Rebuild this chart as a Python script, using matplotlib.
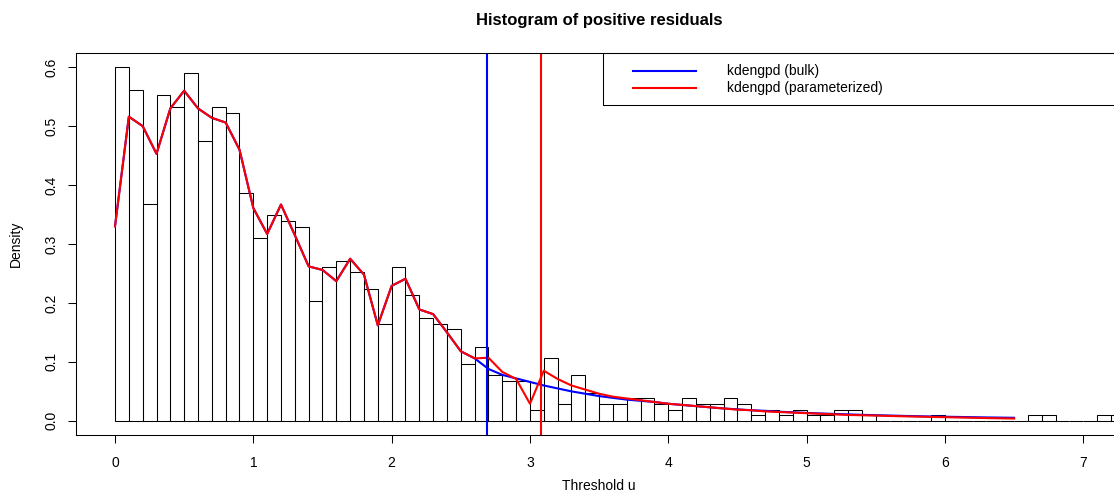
import numpy as np
import matplotlib
matplotlib.use("Agg")
import matplotlib.pyplot as plt
from matplotlib.patches import Rectangle

# histogram densities, bins of width 0.1 starting at 0
bin_width = 0.1
density = [0.600, 0.561, 0.368, 0.552, 0.532, 0.590, 0.474, 0.532, 0.523, 0.387,
           0.310, 0.349, 0.339, 0.329, 0.203, 0.261, 0.271, 0.252, 0.223, 0.165,
           0.261, 0.213, 0.174, 0.165, 0.155, 0.097, 0.126, 0.077, 0.068, 0.068,
           0.019, 0.106, 0.029, 0.077, 0.048, 0.029, 0.029, 0.039, 0.039, 0.029,
           0.019, 0.039, 0.029, 0.029, 0.039, 0.029, 0.010, 0.019, 0.010, 0.019,
           0.010, 0.010, 0.019, 0.019, 0.010, 0.0, 0.0, 0.0, 0.0, 0.010,
           0.0, 0.0, 0.0, 0.0, 0.0, 0.0, 0.010, 0.010, 0.0, 0.0,
           0.0, 0.010, 0.010]

# fitted densities evaluated on a 0.1 grid from 0 to 6.5
param_fit = [0.330, 0.516, 0.500, 0.453, 0.530, 0.560, 0.530, 0.514, 0.506, 0.460,
             0.361, 0.317, 0.367, 0.315, 0.262, 0.256, 0.237, 0.275, 0.248, 0.162,
             0.229, 0.241, 0.189, 0.181, 0.150, 0.118, 0.106, 0.107, 0.083, 0.071,
             0.029, 0.085, 0.071, 0.060, 0.053, 0.046, 0.041, 0.038, 0.035, 0.032,
             0.029, 0.027, 0.025, 0.023, 0.021, 0.019, 0.018, 0.016, 0.015, 0.014,
             0.013, 0.012, 0.011, 0.010, 0.0095, 0.009, 0.0083, 0.0077, 0.0072, 0.0067,
             0.0062, 0.0057, 0.0052, 0.0047, 0.0043, 0.0039]
bulk_fit = param_fit[:27] + [
             0.088, 0.078, 0.072,
             0.066, 0.060, 0.055, 0.050, 0.046, 0.042, 0.039, 0.036, 0.034, 0.032,
             0.029, 0.027, 0.025, 0.023, 0.021, 0.0195, 0.018, 0.017, 0.0155, 0.0145,
             0.0135, 0.0125, 0.0117, 0.011, 0.0102, 0.0096, 0.009, 0.0084, 0.0079, 0.0074,
             0.0070, 0.0066, 0.0062, 0.0058, 0.0055, 0.0052]

u_bulk = 2.69
u_param = 3.08
legend_labels = ["kdengpd (bulk)", "kdengpd (parameterized)"]

plt.rcParams['font.family'] = ['Liberation Sans', 'DejaVu Sans']

W, H = 1114, 500
fig = plt.figure(figsize=(W / 100, H / 100), dpi=100)
# plot region in pixels: x 76..1122, y 53..435 (right side runs off the image)
ax = fig.add_axes([76 / W, (H - 435) / H, (1122 - 76) / W, (435 - 53) / H])

edges = np.arange(len(density)) * bin_width
ax.bar(edges, density, width=bin_width, align='edge', fill=False,
       edgecolor='black', linewidth=0.75)

grid = np.arange(len(param_fit)) * 0.1
ax.plot(grid, bulk_fit, color='blue', linewidth=1.5)
ax.plot(grid, param_fit, color='red', linewidth=1.5)
ax.axvline(u_bulk, color='blue', linewidth=1.5)
ax.axvline(u_param, color='red', linewidth=1.5)

ax.set_xlim(-0.282, 7.28)
ax.set_ylim(-0.024, 0.624)
ax.set_xticks(range(8))
ax.set_yticks([0.0, 0.1, 0.2, 0.3, 0.4, 0.5, 0.6])
ax.set_yticklabels(["0.0", "0.1", "0.2", "0.3", "0.4", "0.5", "0.6"])
ax.tick_params(axis='both', labelsize=10, length=5.8, width=0.75, direction='out')
ax.tick_params(axis='x', pad=9)
ax.tick_params(axis='y', pad=6.5, labelrotation=90)
for lab in ax.get_yticklabels():
    lab.set_va('center')
for s in ax.spines.values():
    s.set_linewidth(0.75)

# legend box in the top right corner, drawn by hand to match the wide R legend
ax.add_patch(Rectangle((0.5038, 0.8639), 0.4962, 0.1361, transform=ax.transAxes,
                       fill=False, edgecolor='black', linewidth=0.75, clip_on=False))
for yy, col, lab in zip([0.9537, 0.909], ['blue', 'red'], legend_labels):
    ax.plot([0.5325, 0.5927], [yy, yy], color=col, linewidth=1.5, transform=ax.transAxes)
    ax.text(0.6224, yy, lab, transform=ax.transAxes, fontsize=10, va='center', ha='left')

fig.text(599 / W, 1 - 25.5 / H, "Histogram of positive residuals", fontsize=12,
         fontweight='bold', ha='center', va='baseline')
fig.text(599 / W, 1 - 490 / H, "Threshold u", fontsize=10, ha='center', va='baseline')
fig.text(15.5 / W, 1 - 244 / H, "Density", fontsize=10, rotation=90,
         ha='center', va='center')

fig.savefig("out.png", dpi=100)
